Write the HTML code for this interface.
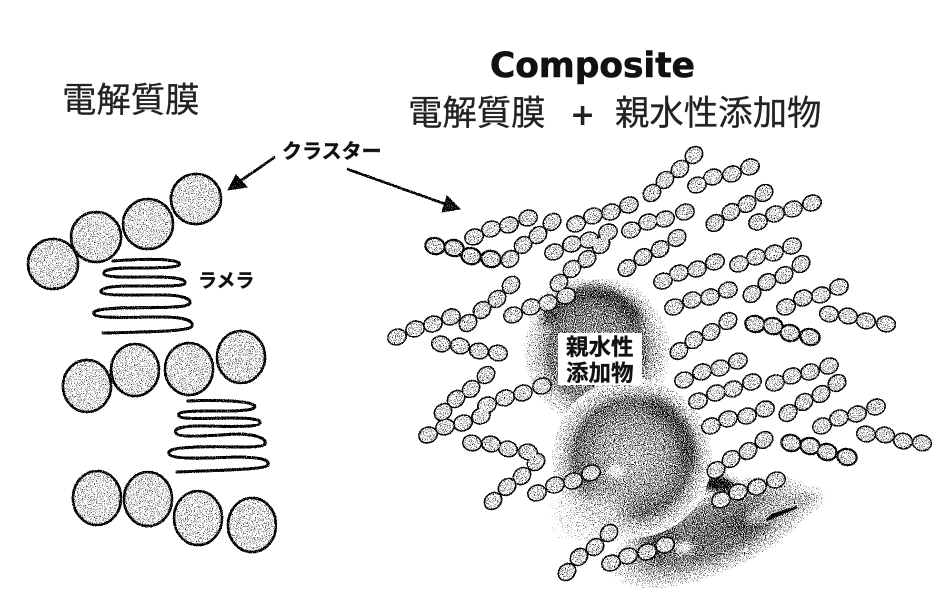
<!DOCTYPE html>
<html lang="ja"><head><meta charset="utf-8"><title>Composite</title>
<style>
html,body{margin:0;padding:0;background:#fff;width:946px;height:610px;overflow:hidden}
svg{display:block}
text{font-family:"Liberation Sans","Noto Sans CJK JP",sans-serif;fill:#222}
</style></head><body>
<svg width="946" height="610" viewBox="0 0 946 610" xmlns="http://www.w3.org/2000/svg">
<defs>
<filter id="dither" filterUnits="userSpaceOnUse" x="0" y="0" width="946" height="610" color-interpolation-filters="sRGB">
<feTurbulence type="fractalNoise" baseFrequency="1.1" numOctaves="1" seed="4" result="t"/>
<feColorMatrix in="t" type="matrix" values="1 0 0 0 0 1 0 0 0 0 1 0 0 0 0 0 0 0 0 1" result="n"/>
<feComposite in="SourceGraphic" in2="n" operator="arithmetic" k1="0" k2="1" k3="2.8" k4="-1.4" result="a"/>
<feComponentTransfer in="a" result="d"><feFuncR type="linear" slope="5" intercept="-2"/><feFuncG type="linear" slope="5" intercept="-2"/><feFuncB type="linear" slope="5" intercept="-2"/></feComponentTransfer>
<feComponentTransfer in="SourceGraphic" result="w"><feFuncR type="linear" slope="120" intercept="-119"/><feFuncG type="linear" slope="120" intercept="-119"/><feFuncB type="linear" slope="120" intercept="-119"/></feComponentTransfer>
<feBlend in="d" in2="w" mode="lighten"/>
</filter>
<filter id="b5" x="-40%" y="-40%" width="180%" height="180%"><feGaussianBlur stdDeviation="5"/></filter>
<filter id="b3" x="-60%" y="-60%" width="220%" height="220%"><feGaussianBlur stdDeviation="3"/></filter>
<filter id="b9" x="-40%" y="-40%" width="180%" height="180%"><feGaussianBlur stdDeviation="9"/></filter>
<radialGradient id="s1"><stop offset="0" stop-color="#999"/><stop offset=".66" stop-color="#7c7c7c"/><stop offset=".76" stop-color="#a8a8a8"/><stop offset="1" stop-color="#fff"/></radialGradient>
<radialGradient id="s2"><stop offset="0" stop-color="#b4b4b4"/><stop offset=".45" stop-color="#949494"/><stop offset=".72" stop-color="#6e6e6e"/><stop offset=".8" stop-color="#a0a0a0"/><stop offset="1" stop-color="#fff"/></radialGradient>
<radialGradient id="s3"><stop offset="0" stop-color="#707070"/><stop offset=".55" stop-color="#828282"/><stop offset=".8" stop-color="#bcbcbc"/><stop offset="1" stop-color="#fff"/></radialGradient>
<g id="beads">
<g>
<ellipse cx="474" cy="237" rx="8.6" ry="7" transform="rotate(-20 474 237)"/><ellipse cx="491" cy="229" rx="8.6" ry="7" transform="rotate(-20 491 229)"/><ellipse cx="509" cy="225" rx="8.6" ry="7" transform="rotate(-20 509 225)"/><ellipse cx="528" cy="218" rx="8.6" ry="7" transform="rotate(-20 528 218)"/>
<ellipse cx="510" cy="259" rx="8.6" ry="7" transform="rotate(-40 510 259)"/><ellipse cx="523" cy="245" rx="8.6" ry="7" transform="rotate(-40 523 245)"/><ellipse cx="538" cy="235" rx="8.6" ry="7" transform="rotate(-40 538 235)"/><ellipse cx="552" cy="222" rx="8.6" ry="7" transform="rotate(-40 552 222)"/>
<ellipse cx="576" cy="224" rx="8.6" ry="7" transform="rotate(-20 576 224)"/><ellipse cx="593" cy="216" rx="8.6" ry="7" transform="rotate(-20 593 216)"/><ellipse cx="611" cy="212" rx="8.6" ry="7" transform="rotate(-20 611 212)"/><ellipse cx="629" cy="205" rx="8.6" ry="7" transform="rotate(-20 629 205)"/>
<ellipse cx="652" cy="193" rx="8.6" ry="7" transform="rotate(-42 652 193)"/><ellipse cx="665" cy="180" rx="8.6" ry="7" transform="rotate(-42 665 180)"/><ellipse cx="680" cy="169" rx="8.6" ry="7" transform="rotate(-42 680 169)"/><ellipse cx="694" cy="155" rx="8.6" ry="7" transform="rotate(-42 694 155)"/>
<ellipse cx="554" cy="252" rx="8.6" ry="7" transform="rotate(-20 554 252)"/><ellipse cx="572" cy="244" rx="8.6" ry="7" transform="rotate(-20 572 244)"/><ellipse cx="589" cy="240" rx="8.6" ry="7" transform="rotate(-20 589 240)"/><ellipse cx="608" cy="232" rx="8.6" ry="7" transform="rotate(-20 608 232)"/>
<ellipse cx="559" cy="283" rx="8.6" ry="7" transform="rotate(-42 559 283)"/><ellipse cx="572" cy="269" rx="8.6" ry="7" transform="rotate(-42 572 269)"/><ellipse cx="587" cy="259" rx="8.6" ry="7" transform="rotate(-42 587 259)"/><ellipse cx="601" cy="245" rx="8.6" ry="7" transform="rotate(-42 601 245)"/>
<ellipse cx="631" cy="230" rx="8.6" ry="7" transform="rotate(-20 631 230)"/><ellipse cx="648" cy="222" rx="8.6" ry="7" transform="rotate(-20 648 222)"/><ellipse cx="665" cy="219" rx="8.6" ry="7" transform="rotate(-20 665 219)"/><ellipse cx="685" cy="212" rx="8.6" ry="7" transform="rotate(-20 685 212)"/>
<ellipse cx="627" cy="268" rx="8.6" ry="7" transform="rotate(-38 627 268)"/><ellipse cx="643" cy="257" rx="8.6" ry="7" transform="rotate(-38 643 257)"/><ellipse cx="660" cy="249" rx="8.6" ry="7" transform="rotate(-38 660 249)"/><ellipse cx="677" cy="238" rx="8.6" ry="7" transform="rotate(-38 677 238)"/>
<ellipse cx="511" cy="285" rx="8.6" ry="7" transform="rotate(-42 511 285)"/><ellipse cx="497" cy="299" rx="8.6" ry="7" transform="rotate(-42 497 299)"/><ellipse cx="482" cy="310" rx="8.6" ry="7" transform="rotate(-42 482 310)"/><ellipse cx="468" cy="323" rx="8.6" ry="7" transform="rotate(-42 468 323)"/>
<ellipse cx="397" cy="337" rx="8.6" ry="7" transform="rotate(-20 397 337)"/><ellipse cx="415" cy="329" rx="8.6" ry="7" transform="rotate(-20 415 329)"/><ellipse cx="433" cy="324" rx="8.6" ry="7" transform="rotate(-20 433 324)"/><ellipse cx="451" cy="317" rx="8.6" ry="7" transform="rotate(-20 451 317)"/>
<ellipse cx="513" cy="315" rx="8.6" ry="7" transform="rotate(-20 513 315)"/><ellipse cx="531" cy="307" rx="8.6" ry="7" transform="rotate(-20 531 307)"/><ellipse cx="548" cy="303" rx="8.6" ry="7" transform="rotate(-20 548 303)"/><ellipse cx="566" cy="296" rx="8.6" ry="7" transform="rotate(-20 566 296)"/>
<ellipse cx="441" cy="344" rx="8.6" ry="7" transform="rotate(10 441 344)"/><ellipse cx="460" cy="346" rx="8.6" ry="7" transform="rotate(10 460 346)"/><ellipse cx="479" cy="351" rx="8.6" ry="7" transform="rotate(10 479 351)"/><ellipse cx="498" cy="353" rx="8.6" ry="7" transform="rotate(10 498 353)"/>
<ellipse cx="697" cy="185" rx="8.6" ry="7" transform="rotate(-20 697 185)"/><ellipse cx="713" cy="177" rx="8.6" ry="7" transform="rotate(-20 713 177)"/><ellipse cx="732" cy="174" rx="8.6" ry="7" transform="rotate(-20 732 174)"/><ellipse cx="750" cy="167" rx="8.6" ry="7" transform="rotate(-20 750 167)"/>
<ellipse cx="715" cy="223" rx="8.6" ry="7" transform="rotate(-38 715 223)"/><ellipse cx="731" cy="212" rx="8.6" ry="7" transform="rotate(-38 731 212)"/><ellipse cx="747" cy="204" rx="8.6" ry="7" transform="rotate(-38 747 204)"/><ellipse cx="764" cy="193" rx="8.6" ry="7" transform="rotate(-38 764 193)"/>
<ellipse cx="758" cy="222" rx="8.6" ry="7" transform="rotate(-20 758 222)"/><ellipse cx="775" cy="214" rx="8.6" ry="7" transform="rotate(-20 775 214)"/><ellipse cx="793" cy="209" rx="8.6" ry="7" transform="rotate(-20 793 209)"/><ellipse cx="812" cy="203" rx="8.6" ry="7" transform="rotate(-20 812 203)"/>
<ellipse cx="663" cy="281" rx="8.6" ry="7" transform="rotate(-20 663 281)"/><ellipse cx="679" cy="273" rx="8.6" ry="7" transform="rotate(-20 679 273)"/><ellipse cx="697" cy="269" rx="8.6" ry="7" transform="rotate(-20 697 269)"/><ellipse cx="715" cy="262" rx="8.6" ry="7" transform="rotate(-20 715 262)"/>
<ellipse cx="739" cy="264" rx="8.6" ry="7" transform="rotate(-20 739 264)"/><ellipse cx="756" cy="257" rx="8.6" ry="7" transform="rotate(-20 756 257)"/><ellipse cx="774" cy="253" rx="8.6" ry="7" transform="rotate(-20 774 253)"/><ellipse cx="792" cy="246" rx="8.6" ry="7" transform="rotate(-20 792 246)"/>
<ellipse cx="752" cy="294" rx="8.6" ry="7" transform="rotate(-38 752 294)"/><ellipse cx="767" cy="282" rx="8.6" ry="7" transform="rotate(-38 767 282)"/><ellipse cx="784" cy="275" rx="8.6" ry="7" transform="rotate(-38 784 275)"/><ellipse cx="801" cy="264" rx="8.6" ry="7" transform="rotate(-38 801 264)"/>
<ellipse cx="786" cy="307" rx="8.6" ry="7" transform="rotate(-20 786 307)"/><ellipse cx="803" cy="298" rx="8.6" ry="7" transform="rotate(-20 803 298)"/><ellipse cx="821" cy="295" rx="8.6" ry="7" transform="rotate(-20 821 295)"/><ellipse cx="839" cy="287" rx="8.6" ry="7" transform="rotate(-20 839 287)"/>
<ellipse cx="829" cy="314" rx="8.6" ry="7" transform="rotate(10 829 314)"/><ellipse cx="848" cy="316" rx="8.6" ry="7" transform="rotate(10 848 316)"/><ellipse cx="866" cy="321" rx="8.6" ry="7" transform="rotate(10 866 321)"/><ellipse cx="886" cy="324" rx="8.6" ry="7" transform="rotate(10 886 324)"/>
<ellipse cx="674" cy="307" rx="8.6" ry="7" transform="rotate(-20 674 307)"/><ellipse cx="692" cy="300" rx="8.6" ry="7" transform="rotate(-20 692 300)"/><ellipse cx="710" cy="297" rx="8.6" ry="7" transform="rotate(-20 710 297)"/><ellipse cx="728" cy="290" rx="8.6" ry="7" transform="rotate(-20 728 290)"/>
<ellipse cx="679" cy="351" rx="8.6" ry="7" transform="rotate(-38 679 351)"/><ellipse cx="694" cy="340" rx="8.6" ry="7" transform="rotate(-38 694 340)"/><ellipse cx="711" cy="332" rx="8.6" ry="7" transform="rotate(-38 711 332)"/><ellipse cx="728" cy="321" rx="8.6" ry="7" transform="rotate(-38 728 321)"/>
<ellipse cx="684" cy="380" rx="8.6" ry="7" transform="rotate(-20 684 380)"/><ellipse cx="702" cy="372" rx="8.6" ry="7" transform="rotate(-20 702 372)"/><ellipse cx="720" cy="368" rx="8.6" ry="7" transform="rotate(-20 720 368)"/><ellipse cx="738" cy="361" rx="8.6" ry="7" transform="rotate(-20 738 361)"/>
<ellipse cx="698" cy="401" rx="8.6" ry="7" transform="rotate(-20 698 401)"/><ellipse cx="716" cy="393" rx="8.6" ry="7" transform="rotate(-20 716 393)"/><ellipse cx="733" cy="389" rx="8.6" ry="7" transform="rotate(-20 733 389)"/><ellipse cx="752" cy="382" rx="8.6" ry="7" transform="rotate(-20 752 382)"/>
<ellipse cx="775" cy="383" rx="8.6" ry="7" transform="rotate(-20 775 383)"/><ellipse cx="792" cy="376" rx="8.6" ry="7" transform="rotate(-20 792 376)"/><ellipse cx="810" cy="372" rx="8.6" ry="7" transform="rotate(-20 810 372)"/><ellipse cx="829" cy="366" rx="8.6" ry="7" transform="rotate(-20 829 366)"/>
<ellipse cx="788" cy="413" rx="8.6" ry="7" transform="rotate(-38 788 413)"/><ellipse cx="804" cy="402" rx="8.6" ry="7" transform="rotate(-38 804 402)"/><ellipse cx="821" cy="394" rx="8.6" ry="7" transform="rotate(-38 821 394)"/><ellipse cx="837" cy="383" rx="8.6" ry="7" transform="rotate(-38 837 383)"/>
<ellipse cx="711" cy="426" rx="8.6" ry="7" transform="rotate(-20 711 426)"/><ellipse cx="728" cy="419" rx="8.6" ry="7" transform="rotate(-20 728 419)"/><ellipse cx="747" cy="416" rx="8.6" ry="7" transform="rotate(-20 747 416)"/><ellipse cx="765" cy="409" rx="8.6" ry="7" transform="rotate(-20 765 409)"/>
<ellipse cx="822" cy="426" rx="8.6" ry="7" transform="rotate(-20 822 426)"/><ellipse cx="839" cy="418" rx="8.6" ry="7" transform="rotate(-20 839 418)"/><ellipse cx="857" cy="414" rx="8.6" ry="7" transform="rotate(-20 857 414)"/><ellipse cx="876" cy="407" rx="8.6" ry="7" transform="rotate(-20 876 407)"/>
<ellipse cx="866" cy="434" rx="8.6" ry="7" transform="rotate(10 866 434)"/><ellipse cx="885" cy="435" rx="8.6" ry="7" transform="rotate(10 885 435)"/><ellipse cx="903" cy="441" rx="8.6" ry="7" transform="rotate(10 903 441)"/><ellipse cx="922" cy="443" rx="8.6" ry="7" transform="rotate(10 922 443)"/>
<ellipse cx="716" cy="470" rx="8.6" ry="7" transform="rotate(-38 716 470)"/><ellipse cx="731" cy="459" rx="8.6" ry="7" transform="rotate(-38 731 459)"/><ellipse cx="748" cy="451" rx="8.6" ry="7" transform="rotate(-38 748 451)"/><ellipse cx="764" cy="440" rx="8.6" ry="7" transform="rotate(-38 764 440)"/>
<ellipse cx="721" cy="500" rx="8.6" ry="7" transform="rotate(-20 721 500)"/><ellipse cx="738" cy="492" rx="8.6" ry="7" transform="rotate(-20 738 492)"/><ellipse cx="757" cy="487" rx="8.6" ry="7" transform="rotate(-20 757 487)"/><ellipse cx="776" cy="480" rx="8.6" ry="7" transform="rotate(-20 776 480)"/>
<ellipse cx="611" cy="563" rx="8.6" ry="7" transform="rotate(-20 611 563)"/><ellipse cx="628" cy="556" rx="8.6" ry="7" transform="rotate(-20 628 556)"/><ellipse cx="647" cy="552" rx="8.6" ry="7" transform="rotate(-20 647 552)"/><ellipse cx="665" cy="545" rx="8.6" ry="7" transform="rotate(-20 665 545)"/>
<ellipse cx="567" cy="572" rx="8.6" ry="7" transform="rotate(-42 567 572)"/><ellipse cx="579" cy="557" rx="8.6" ry="7" transform="rotate(-42 579 557)"/><ellipse cx="595" cy="547" rx="8.6" ry="7" transform="rotate(-42 595 547)"/><ellipse cx="609" cy="533" rx="8.6" ry="7" transform="rotate(-42 609 533)"/>
<ellipse cx="537" cy="493" rx="8.6" ry="7" transform="rotate(-20 537 493)"/><ellipse cx="555" cy="485" rx="8.6" ry="7" transform="rotate(-20 555 485)"/><ellipse cx="573" cy="481" rx="8.6" ry="7" transform="rotate(-20 573 481)"/><ellipse cx="591" cy="473" rx="8.6" ry="7" transform="rotate(-20 591 473)"/>
<ellipse cx="493" cy="501" rx="8.6" ry="7" transform="rotate(-42 493 501)"/><ellipse cx="507" cy="487" rx="8.6" ry="7" transform="rotate(-42 507 487)"/><ellipse cx="522" cy="476" rx="8.6" ry="7" transform="rotate(-42 522 476)"/><ellipse cx="536" cy="462" rx="8.6" ry="7" transform="rotate(-42 536 462)"/>
<ellipse cx="472" cy="443" rx="8.6" ry="7" transform="rotate(10 472 443)"/><ellipse cx="491" cy="444" rx="8.6" ry="7" transform="rotate(10 491 444)"/><ellipse cx="508" cy="449" rx="8.6" ry="7" transform="rotate(10 508 449)"/><ellipse cx="528" cy="452" rx="8.6" ry="7" transform="rotate(10 528 452)"/>
<ellipse cx="428" cy="435" rx="8.6" ry="7" transform="rotate(-20 428 435)"/><ellipse cx="445" cy="427" rx="8.6" ry="7" transform="rotate(-20 445 427)"/><ellipse cx="463" cy="423" rx="8.6" ry="7" transform="rotate(-20 463 423)"/><ellipse cx="481" cy="416" rx="8.6" ry="7" transform="rotate(-20 481 416)"/>
<ellipse cx="443" cy="412" rx="8.6" ry="7" transform="rotate(-42 443 412)"/><ellipse cx="456" cy="399" rx="8.6" ry="7" transform="rotate(-42 456 399)"/><ellipse cx="471" cy="389" rx="8.6" ry="7" transform="rotate(-42 471 389)"/><ellipse cx="486" cy="375" rx="8.6" ry="7" transform="rotate(-42 486 375)"/>
<ellipse cx="487" cy="405" rx="8.6" ry="7" transform="rotate(-20 487 405)"/><ellipse cx="505" cy="398" rx="8.6" ry="7" transform="rotate(-20 505 398)"/><ellipse cx="523" cy="393" rx="8.6" ry="7" transform="rotate(-20 523 393)"/><ellipse cx="542" cy="386" rx="8.6" ry="7" transform="rotate(-20 542 386)"/>
</g>
</g>
<g id="dark">
<ellipse cx="435" cy="246" rx="8.6" ry="7" transform="rotate(12 435 246)"/><ellipse cx="454" cy="248" rx="8.6" ry="7" transform="rotate(12 454 248)"/><ellipse cx="471" cy="256" rx="8.6" ry="7" transform="rotate(12 471 256)"/><ellipse cx="491" cy="259" rx="8.6" ry="7" transform="rotate(12 491 259)"/>
<ellipse cx="755" cy="324" rx="8.6" ry="7" transform="rotate(12 755 324)"/><ellipse cx="773" cy="326" rx="8.6" ry="7" transform="rotate(12 773 326)"/><ellipse cx="790" cy="333" rx="8.6" ry="7" transform="rotate(12 790 333)"/><ellipse cx="810" cy="337" rx="8.6" ry="7" transform="rotate(12 810 337)"/>
<ellipse cx="791" cy="443" rx="8.6" ry="7" transform="rotate(12 791 443)"/><ellipse cx="810" cy="446" rx="8.6" ry="7" transform="rotate(12 810 446)"/><ellipse cx="827" cy="452" rx="8.6" ry="7" transform="rotate(12 827 452)"/><ellipse cx="847" cy="457" rx="8.6" ry="7" transform="rotate(12 847 457)"/>
</g>
</defs>

<g filter="url(#dither)">
<rect width="946" height="610" fill="#fff"/>

<!-- big clusters -->
<g fill="#d4d4d4" stroke="#000" stroke-width="2.6">
<ellipse cx="53" cy="264" rx="25" ry="25"/><ellipse cx="96" cy="237" rx="25" ry="25"/><ellipse cx="148" cy="224" rx="25" ry="25"/><ellipse cx="196" cy="199" rx="25" ry="25"/>
<ellipse cx="87" cy="386" rx="24" ry="26"/><ellipse cx="135" cy="370" rx="24" ry="26"/><ellipse cx="189" cy="369" rx="24" ry="26"/><ellipse cx="241" cy="357" rx="24" ry="26"/>
<ellipse cx="97" cy="498" rx="24" ry="27"/><ellipse cx="148" cy="499" rx="24" ry="27"/><ellipse cx="198" cy="518" rx="24" ry="27"/><ellipse cx="252" cy="525" rx="24" ry="27"/>
</g>

<!-- lamellae -->
<g fill="none" stroke="#000" stroke-width="3" stroke-linecap="round">
<path d="M113 261 C140 259 172 258 179 263 C183 268 160 268 130 268 C112 268 102 270 104 274 C106 278 130 277 155 277 C175 277 186 279 185 283 C184 287 160 286 130 286 C112 286 100 288 101 292 C103 296 130 295 160 295 C180 295 191 298 190 303 C188 309 150 307 120 308 C103 309 92 310 94 314 C96 319 130 317 160 317 C182 317 194 320 192 326 C190 332 140 332 103 333"/>
<path d="M188 401 C210 400 250 400 255 406 C256 412 225 411 205 411 C188 411 176 412 179 416 C181 420 210 418 230 418 C250 418 261 419 260 423 C259 428 225 426 200 426 C184 426 173 428 176 433 C178 438 205 436 235 434 C255 434 267 438 265 444 C262 449 225 446 195 447 C178 448 167 449 169 454 C172 460 205 458 235 457 C258 457 270 459 268 465 C265 470 215 470 177 472"/>
</g>

<!-- arrows -->
<g stroke="#000" fill="#000">
<line x1="275" y1="157" x2="236" y2="184" stroke-width="2.6"/>
<polygon points="228,190 236,175 247,187" stroke-width="1"/>
<line x1="347" y1="169" x2="448" y2="205" stroke-width="2.6"/>
<polygon points="460,209 442,212 447,196" stroke-width="1"/>
</g>

<!-- third blob -->
<ellipse cx="712" cy="532" rx="108" ry="42" transform="rotate(-22 712 532)" fill="url(#s3)"/>
<ellipse cx="750" cy="522" rx="26" ry="12" transform="rotate(-20 750 522)" fill="#606060" filter="url(#b5)"/>
<ellipse cx="655" cy="535" rx="14" ry="30" fill="#606060" filter="url(#b9)"/>
<ellipse cx="713" cy="483" rx="23" ry="8" transform="rotate(8 713 483)" fill="#222" filter="url(#b3)"/>
<ellipse cx="782" cy="508" rx="38" ry="11" transform="rotate(-18 782 508)" fill="#aaa" filter="url(#b3)"/>
<ellipse cx="684" cy="548" rx="8" ry="5" fill="#fff" filter="url(#b3)"/>

<!-- sphere 1 -->
<circle cx="597" cy="352" r="73" fill="url(#s1)"/>
<path d="M546 324 A50 50 0 0 1 638 322" fill="none" stroke="#505050" stroke-width="16" filter="url(#b5)"/>

<!-- sphere 2 -->
<circle cx="632" cy="458" r="80" fill="url(#s2)"/>
<path d="M650 403 A58 58 0 0 1 688 468" fill="none" stroke="#555" stroke-width="14" filter="url(#b5)"/>
<ellipse cx="598" cy="512" rx="28" ry="16" fill="#d8d8d8" filter="url(#b9)"/>
<ellipse cx="616" cy="471" rx="7" ry="6" fill="#fff" filter="url(#b3)"/>

<path d="M767 520 L797 507 L772 515 Z" fill="#000" stroke="#000" stroke-width="2.4"/>

<!-- beads -->
<use href="#beads" fill="#000" stroke="#000" stroke-width="3"/>
<use href="#beads" fill="#cccccc"/>
<use href="#dark" fill="#000" stroke="#000" stroke-width="4.4"/>
<use href="#dark" fill="#cccccc"/>
</g>

<!-- label box -->
<rect x="558" y="333" width="84" height="52" fill="#fff"/>

<!-- text -->
<g stroke="#222" stroke-width=".3">
<text x="62" y="112" font-size="34.4">電解質膜</text>
<text x="408" y="125" font-size="34.4">電解質膜</text>
<text x="615" y="125" font-size="34.4">親水性添加物</text>
</g>
<text x="490" y="77" font-size="34.4" font-weight="700" stroke="#111" stroke-width=".6" style="font-family:'DejaVu Sans',sans-serif;fill:#111">Composite</text>
<text x="570" y="125" font-size="30" font-weight="700" style="font-family:'DejaVu Sans',sans-serif">+</text>
<text x="282" y="158" font-size="20" font-weight="700" stroke="#111" stroke-width=".4" style="fill:#111">クラスター</text>
<text x="198" y="287" font-size="19" font-weight="700" stroke="#111" stroke-width=".4" style="fill:#111">ラメラ</text>
<text x="566" y="355" font-size="22.5" font-weight="700" stroke="#111" stroke-width=".3" style="fill:#111">親水性</text>
<text x="566" y="381" font-size="22.5" font-weight="700" stroke="#111" stroke-width=".3" style="fill:#111">添加物</text>
</svg>
</body></html>
